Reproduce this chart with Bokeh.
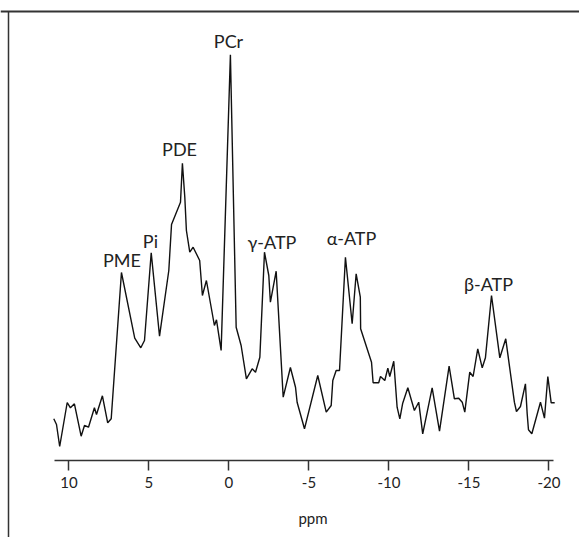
from bokeh.plotting import figure
from bokeh.models import Range1d, LinearAxis, FixedTicker, ColumnDataSource, Label
from bokeh.core.properties import value
from bokeh.embed import file_html
from bokeh.resources import INLINE

# 31P spectrum (chemical shift in ppm, intensity in arbitrary units)
ppm = [10.95, 10.78, 10.58, 10.11, 9.91, 9.66, 9.24, 9.03, 8.78, 8.41, 8.28, 7.91,
       7.58, 7.36, 6.72, 5.89, 5.51, 5.28, 4.86, 4.34, 3.76, 3.59, 3.03, 2.91,
       2.76, 2.66, 2.45, 2.24, 1.83, 1.66, 1.41, 0.91, 0.78, 0.49, -0.09, -0.45,
       -0.76, -1.09, -1.45, -1.66, -1.93, -2.22, -2.49, -2.59, -2.95, -3.39, -3.84,
       -4.16, -4.26, -4.72, -5.55, -6.08, -6.39, -6.49, -6.70, -6.91, -7.28, -7.70,
       -7.95, -8.21, -8.23, -8.91, -9.01, -9.36, -9.47, -9.74, -9.93, -10.05, -10.30,
       -10.51, -10.68, -10.86, -11.18, -11.59, -11.86, -12.11, -12.70, -13.16, -13.76,
       -14.09, -14.36, -14.58, -14.74, -15.05, -15.26, -15.55, -15.83, -16.03, -16.41,
       -16.93, -17.30, -17.84, -17.97, -18.22, -18.53, -18.64, -18.72, -18.93, -19.47,
       -19.72, -19.93, -20.14, -20.36]
intensity = [41.7, 36, 14, 58, 52.7, 56.7, 24.3, 35, 33.3, 52.7, 46, 64.7,
             37.7, 41.7, 188, 122.3, 112.7, 120, 207.7, 124.3, 190, 236, 258.3, 297.3,
             263.3, 230, 208.3, 213.3, 200, 165, 180, 135, 140.7, 110, 405.7, 133.3,
             115, 81.7, 91.7, 88.3, 103.3, 208.3, 185, 158.3, 189.3, 63.3, 93,
             73.3, 58.3, 31.7, 85, 48.3, 55, 80, 90, 90, 203.3, 136.7,
             186.7, 163.3, 131.7, 98.3, 77.7, 77.7, 84, 80, 92.3, 84, 99.3,
             53.3, 41.7, 57.3, 72.7, 50, 58.3, 26.7, 72.7, 29.3, 94.3,
             61.7, 62.3, 58.3, 48.3, 88.3, 84, 111.7, 92.7, 102.7, 165,
             102.7, 121.7, 58.3, 49, 54, 76.7, 46.7, 30.7, 26.7, 58.3,
             42.3, 84, 57.7, 57.7]

peak_names = ["PME", "Pi", "PDE", "PCr", "\u03b3-ATP", "\u03b1-ATP", "\u03b2-ATP"]
peak_label_ppm = [6.69, 4.91, 3.09, 0.03, -2.69, -7.66, -16.22]
peak_label_height = [200.5, 220, 312, 420, 218.5, 222.5, 177]

tick_values = [10, 5, 0, -5, -10, -15, -20]
axis_span = (-20.28, 10.9)
axis_title = "ppm"

FONT = "Lato"

p = figure(width=579, height=537, output_backend="svg", toolbar_location=None,
           x_range=Range1d(14.28, -21.91), y_range=Range1d(-77, 460),
           x_axis_location=None, y_axis_location=None, min_border=0,
           background_fill_color="white", border_fill_color="white")
p.outline_line_color = None
p.xgrid.grid_line_color = None
p.ygrid.grid_line_color = None

# bottom ppm axis
xaxis = LinearAxis(fixed_location=0, ticker=FixedTicker(ticks=tick_values),
                   bounds=axis_span)
xaxis.major_label_overrides = {t: str(t) for t in tick_values}
xaxis.axis_line_color = "#333333"
xaxis.axis_line_width = 1.5
xaxis.major_tick_line_color = "#333333"
xaxis.major_tick_line_width = 1.5
xaxis.major_tick_in = 0
xaxis.major_tick_out = 10
xaxis.minor_tick_line_color = None
xaxis.major_label_text_font = FONT
xaxis.major_label_text_font_size = "15px"
xaxis.major_label_text_color = "#222222"
xaxis.major_label_standoff = 6
p.add_layout(xaxis, "below")

# axis title, placed under the axis slightly right of centre as in the original
p.add_layout(Label(x=-5.25, y=-57, text=axis_title, text_font=FONT,
                   text_font_size="15px", text_color="#222222",
                   text_align="center", text_baseline="middle"))

# frame lines (top and left)
top = LinearAxis(fixed_location=449, ticker=FixedTicker(ticks=[]))
top.axis_line_color = "#333333"
top.axis_line_width = 2
top.major_tick_line_color = None
top.minor_tick_line_color = None
top.major_label_text_alpha = 0
p.add_layout(top, "above")

left = LinearAxis(fixed_location=13.75, ticker=FixedTicker(ticks=[]), bounds=(-77, 449))
left.axis_line_color = "#333333"
left.axis_line_width = 1.5
left.major_tick_line_color = None
left.minor_tick_line_color = None
left.major_label_text_alpha = 0
p.add_layout(left, "left")

p.line(ppm, intensity, line_color="#111111", line_width=1.4)

labels = ColumnDataSource(dict(x=peak_label_ppm, y=peak_label_height, name=peak_names))
p.text(x="x", y="y", text="name", source=labels, text_font=value(FONT),
       text_font_size=value("18px"), text_align="center", text_baseline="middle",
       text_color="#222222")

open("out.html", "w").write(file_html(p, INLINE))
